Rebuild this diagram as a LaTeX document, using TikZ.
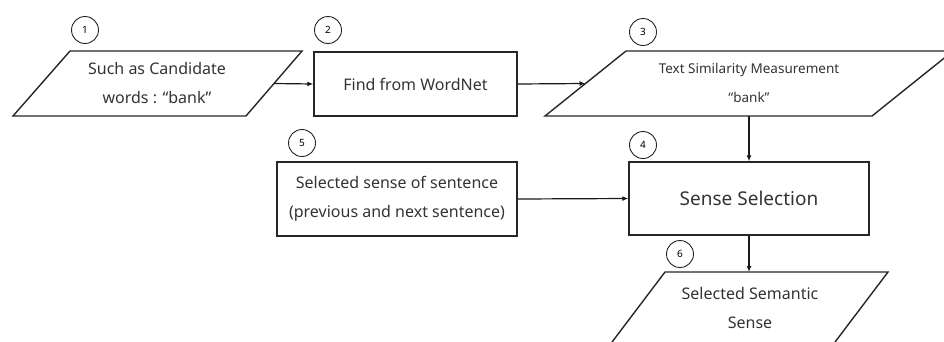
\documentclass[tikz,border=0pt]{standalone}
\usepackage{fontspec}
\setmainfont{Noto Sans}
\usetikzlibrary{arrows.meta}
\begin{document}
\begin{tikzpicture}[x=1pt,y=-1pt,
  shp/.style={draw=black!85,line width=1.4pt},
  txt/.style={font=\fontsize{16}{29}\selectfont,text=black!80,align=center,inner sep=0pt},
  num/.style={draw=black!85,circle,line width=0.9pt,minimum size=27pt,inner sep=0pt,font=\fontsize{10}{10}\selectfont},
  arr/.style={draw=black!90,line width=1.2pt,-{Latex[length=6pt,width=5pt]}}]
\useasboundingbox (0,0) rectangle (944,341);
% parallelogram 1
\draw[shp] (70,51) -- (302,51) -- (246,116) -- (13,116) -- cycle;
\coordinate (p1e) at (274,83.5);
\node[txt] (t1) at (157,83.5) {Such as Candidate\\words : “bank”};
% box 2
\node[shp,minimum width=203pt,minimum height=64pt,inner sep=0pt] (b2) at (415.5,84) {};
\node[txt] (t2) at (b2) {Find from WordNet};
% parallelogram 3
\draw[shp] (626,51) -- (953,51) -- (872,116) -- (545,116) -- cycle;
\coordinate (p3w) at (585.5,83.5);
\coordinate (p3s) at (749,116);
\node[txt,font=\fontsize{13.5}{29}\selectfont] (t3) at (749,83) {Text Similarity Measurement\\“bank”};
% box 5
\node[shp,minimum width=240pt,minimum height=74pt,inner sep=0pt] (b5) at (397,199) {};
\node[txt] (t5) at (b5) {Selected sense of sentence\\(previous and next sentence)};
% box 4
\node[shp,minimum width=240pt,minimum height=73pt,inner sep=0pt] (b4) at (749,198.5) {};
\node[txt,font=\fontsize{19}{19}\selectfont] (t4) at (b4) {Sense Selection};
% parallelogram 6
\draw[shp] (665,272) -- (888,272) -- (829,350) -- (606,350) -- cycle;
\coordinate (p6n) at (749,272);
\node[txt] (t6) at (750,308) {Selected Semantic\\Sense};
% numbers
\node[num] (n1) at (85,30) {1};
\node[num] (n2) at (328,30) {2};
\node[num] (n3) at (643,32) {3};
\node[num] (n5) at (302,143) {5};
\node[num] (n4) at (643,145) {4};
\node[num] (n6) at (680,254) {6};
% arrows
\draw[arr] (p1e) -- (b2.west);
\draw[arr] (b2.east) -- (p3w);
\draw[arr] (p3s) -- (b4.north);
\draw[arr] (b5.east) -- (b4.west);
\draw[arr] (b4.south) -- (p6n);
\end{tikzpicture}
\end{document}
